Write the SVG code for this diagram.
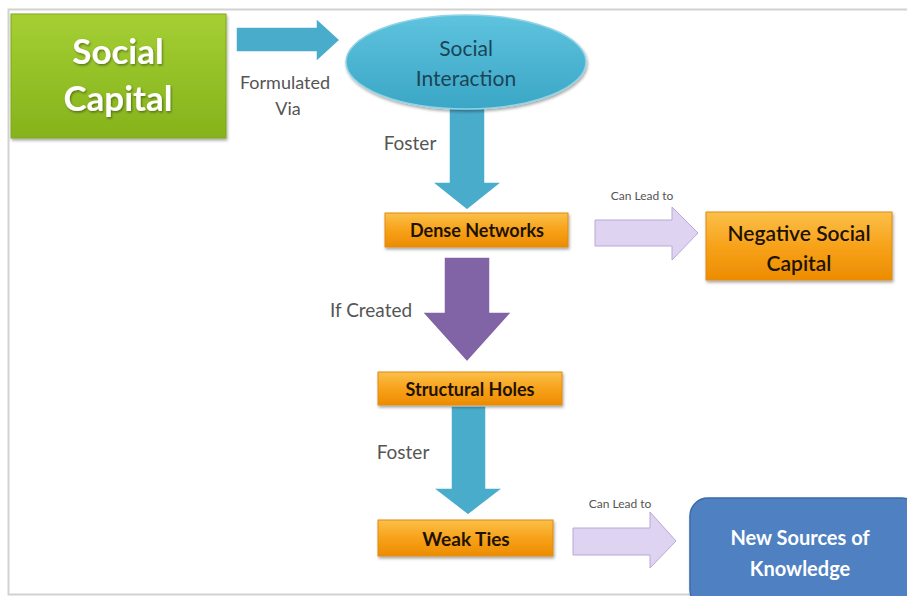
<svg xmlns="http://www.w3.org/2000/svg" width="907" height="596" viewBox="0 0 907 596">
<defs>
<linearGradient id="gGreen" x1="0" y1="0" x2="0" y2="1"><stop offset="0" stop-color="#a6cf34"/><stop offset="0.5" stop-color="#94c127"/><stop offset="1" stop-color="#86b21c"/></linearGradient>
<linearGradient id="gOrange" x1="0" y1="0" x2="0" y2="1"><stop offset="0" stop-color="#fbc04a"/><stop offset="0.5" stop-color="#f7a21a"/><stop offset="1" stop-color="#ec8c00"/></linearGradient>
<linearGradient id="gAqua" x1="0" y1="0" x2="0" y2="1"><stop offset="0" stop-color="#5ec3de"/><stop offset="1" stop-color="#3ba6c6"/></linearGradient>
<filter id="sh" x="-10%" y="-10%" width="125%" height="130%"><feDropShadow dx="1" dy="2" stdDeviation="1.5" flood-color="#000" flood-opacity="0.35"/></filter>
<filter id="tsh" x="-10%" y="-20%" width="120%" height="140%"><feDropShadow dx="1" dy="1.5" stdDeviation="1" flood-color="#000" flood-opacity="0.4"/></filter>
</defs>
<style>
.lbl{font-family:Lato,"Open Sans",sans-serif;fill:#555;}
.bt{font-family:Lato,"Open Sans",sans-serif;font-weight:bold;fill:#1e1200;text-anchor:middle;}
.box{fill:url(#gOrange);stroke:#e08a10;stroke-width:1;filter:url(#sh);}
.aqua{fill:#4aaccb;stroke:#ffffff;stroke-width:1.5;}
.lav{fill:#ded3f0;stroke:#b9a8d8;stroke-width:1;}
.frame{stroke:#d2d2d2;stroke-width:2;fill:none;}
</style>
<rect width="907" height="596" fill="#ffffff"/>
<path class="frame" d="M907 9.5H8.5V594.5H907"/>

<g id="connectors">
<polygon class="aqua" points="236,27 316,27 316,18 340,40 316,62 316,52 236,52"/>
<polygon class="aqua" points="449,108 485,108 485,182 502,182 467,210 432,182 449,182"/>
<polygon class="lav" points="595,220 672,220 672,207 698,233 672,260 672,246 595,246"/>
<polygon fill="#8064a6" stroke="#ffffff" stroke-width="1.5" points="444,257 490,257 490,312 512,312 467,362 422,312 444,312"/>
<polygon class="aqua" points="451,406 486,406 486,488 503,488 468,515 433,488 451,488"/>
<polygon class="lav" points="573,528 650,528 650,512 676,541 650,568 650,555 573,555"/>
<text class="lbl" x="285" y="89" font-size="18" text-anchor="middle">Formulated</text>
<text class="lbl" x="288" y="115" font-size="18" text-anchor="middle">Via</text>
<text class="lbl" x="410" y="150" font-size="19" text-anchor="middle">Foster</text>
<text class="lbl" x="642" y="200" font-size="12" text-anchor="middle">Can Lead to</text>
<text class="lbl" x="371" y="317" font-size="19" text-anchor="middle">If Created</text>
<text class="lbl" x="403" y="459" font-size="19" text-anchor="middle">Foster</text>
<text class="lbl" x="620" y="508" font-size="12" text-anchor="middle">Can Lead to</text>
</g>

<g id="social-capital">
<rect x="11" y="14" width="215" height="124" fill="url(#gGreen)" stroke="#7fa81a" stroke-width="1" filter="url(#sh)"/>
<text x="118" y="64" font-family="Lato,'Open Sans',sans-serif" font-weight="bold" font-size="35" fill="#ffffff" text-anchor="middle" filter="url(#tsh)">Social</text>
<text x="118" y="111" font-family="Lato,'Open Sans',sans-serif" font-weight="bold" font-size="35" fill="#ffffff" text-anchor="middle" filter="url(#tsh)">Capital</text>
</g>

<g id="social-interaction">
<ellipse cx="466" cy="62" rx="120" ry="47" fill="url(#gAqua)" stroke="#8fd3e6" stroke-width="1.5" filter="url(#sh)"/>
<text x="466" y="56" font-family="Lato,'Open Sans',sans-serif" font-size="21" fill="#1a4556" text-anchor="middle">Social</text>
<text x="466" y="86" font-family="Lato,'Open Sans',sans-serif" font-size="21" fill="#1a4556" text-anchor="middle">Interaction</text>
</g>

<g id="dense-networks">
<rect class="box" x="385" y="213" width="183" height="34"/>
<text class="bt" x="477" y="237" font-size="18">Dense Networks</text>
</g>

<g id="negative-social-capital">
<rect class="box" x="706" y="212" width="186" height="68"/>
<text class="bt" x="799" y="241" font-size="21" style="font-weight:600">Negative Social</text>
<text class="bt" x="799" y="271" font-size="21" style="font-weight:600">Capital</text>
</g>

<g id="structural-holes">
<rect class="box" x="378" y="372" width="184" height="33"/>
<text class="bt" x="470" y="396" font-size="18">Structural Holes</text>
</g>

<g id="weak-ties">
<rect class="box" x="378" y="520" width="175" height="36"/>
<text class="bt" x="466" y="546" font-size="19">Weak Ties</text>
</g>

<g id="new-sources">
<rect x="690" y="498" width="230" height="110" rx="18" fill="#4f81c2" stroke="#3b6aa8" stroke-width="1.5" filter="url(#sh)"/>
<text x="800" y="545" font-family="Lato,'Open Sans',sans-serif" font-weight="bold" font-size="20" fill="#ffffff" text-anchor="middle">New Sources of</text>
<text x="800" y="576" font-family="Lato,'Open Sans',sans-serif" font-weight="bold" font-size="20" fill="#ffffff" text-anchor="middle">Knowledge</text>
</g>
</svg>
